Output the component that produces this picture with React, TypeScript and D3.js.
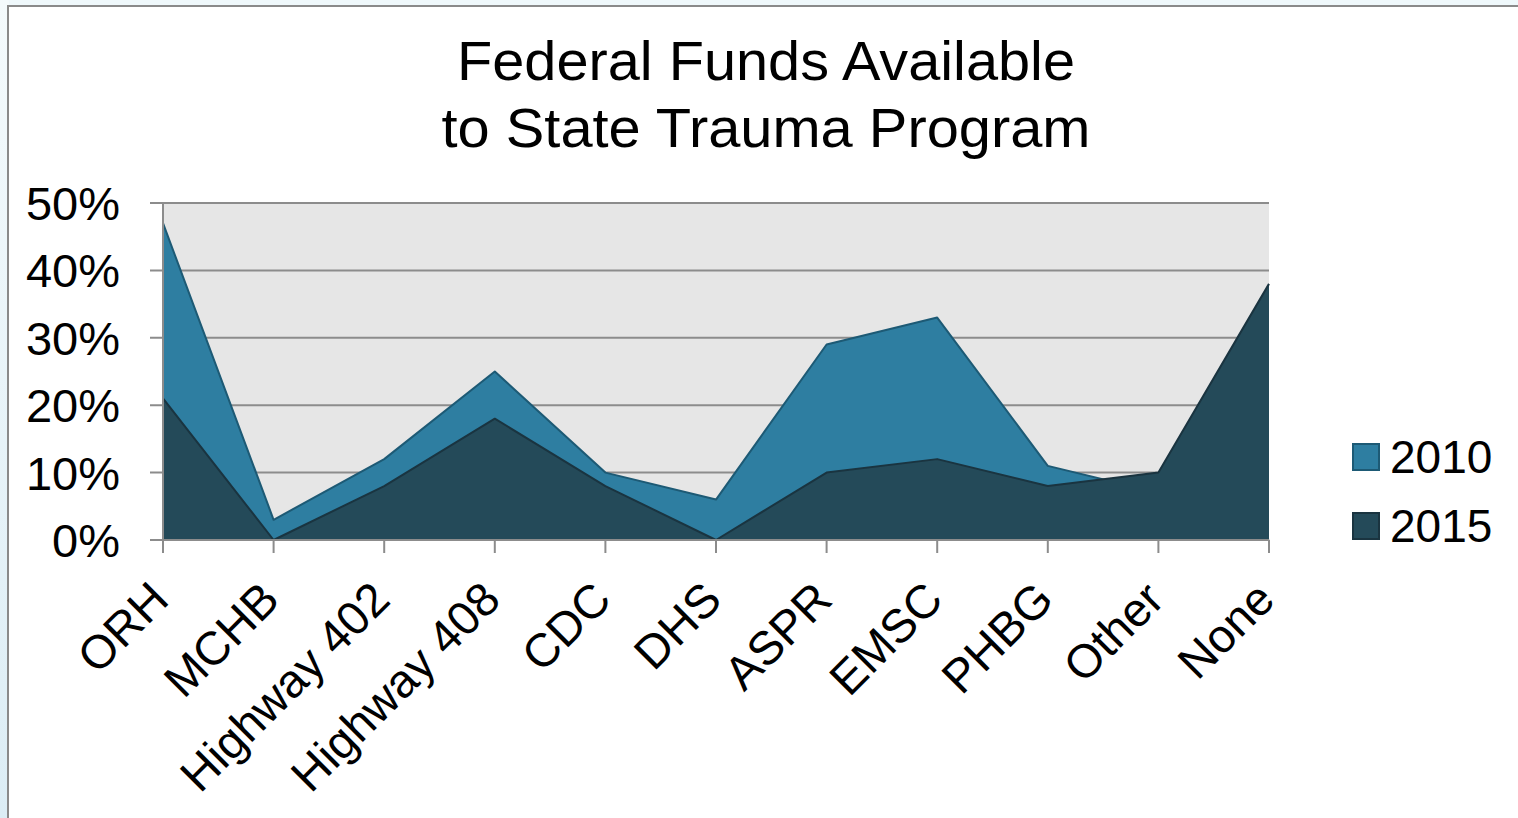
import React from "react";
import * as d3 from "d3";

const categories = ["ORH", "MCHB", "Highway 402", "Highway 408", "CDC", "DHS", "ASPR", "EMSC", "PHBG", "Other", "None"];
const values2010 = [47, 3, 12, 25, 10, 6, 29, 33, 11, 7, 0];
const values2015 = [21, 0, 8, 18, 8, 0, 10, 12, 8, 10, 38];
const yTicks = [0, 10, 20, 30, 40, 50];
const seriesNames = ["2010", "2015"];
const titleLines = ["Federal Funds Available", "to State Trauma Program"];
const titleWidths = [618, 649];

const W = 1518;
const H = 818;
const plot = { left: 163, right: 1269, top: 203, bottom: 540 };
const FONT = "'Liberation Sans', Arial, sans-serif";
const colors = ["#2e7ea1", "#244a59"];
const strokes = ["#1d5a75", "#1a3440"];

export default function App() {
  const x = d3.scalePoint<string>().domain(categories).range([plot.left, plot.right]);
  const y = d3.scaleLinear().domain([0, 50]).range([plot.bottom, plot.top]);
  const series = [values2010, values2015];

  const area = d3
    .area<number>()
    .x((_, i) => x(categories[i]) as number)
    .y0(y(0))
    .y1((d) => y(d));
  const line = d3
    .line<number>()
    .x((_, i) => x(categories[i]) as number)
    .y((d) => y(d));

  return (
    <div style={{ position: "fixed", left: 0, top: 0 }}>
      <svg width={W} height={H} style={{ display: "block" }}>
        <defs>
          <linearGradient id="bgside" x1="0" y1="0" x2="0" y2="1">
            <stop offset="0" stopColor="#f4fafc" />
            <stop offset="1" stopColor="#dcedf5" />
          </linearGradient>
        </defs>
        <rect x={0} y={0} width={W} height={H} fill="#eff8fb" />
        <rect x={0} y={0} width={9} height={H} fill="url(#bgside)" />
        <rect x={8} y={6} width={W + 20} height={H + 20} fill="#ffffff" stroke="#8a8a8a" strokeWidth={2} />

        {/* title */}
        {titleLines.map((t, i) => (
          <text
            key={t}
            x={766}
            y={80 + i * 67}
            textAnchor="middle"
            fontFamily={FONT}
            fontSize={55}
            textLength={titleWidths[i]}
            lengthAdjust="spacingAndGlyphs"
            fill="#000"
          >
            {t}
          </text>
        ))}

        {/* plot background */}
        <rect x={plot.left} y={plot.top} width={plot.right - plot.left} height={plot.bottom - plot.top} fill="#e6e6e6" />

        {/* gridlines */}
        {yTicks.map((t) => (
          <line key={t} x1={150} x2={plot.right} y1={y(t)} y2={y(t)} stroke="#8c8c8c" strokeWidth={2} />
        ))}

        {/* areas */}
        {series.map((s, i) => (
          <g key={seriesNames[i]}>
            <path d={area(s) || ""} fill={colors[i]} />
            <path d={line(s) || ""} fill="none" stroke={strokes[i]} strokeWidth={2} strokeLinejoin="round" />
          </g>
        ))}

        {/* y axis line */}
        <line x1={plot.left} x2={plot.left} y1={plot.top} y2={plot.bottom} stroke="#8c8c8c" strokeWidth={2} />
        {/* x axis line */}
        <line x1={150} x2={plot.right} y1={plot.bottom} y2={plot.bottom} stroke="#8c8c8c" strokeWidth={2} />

        {/* x ticks */}
        {categories.map((c) => (
          <line key={c} x1={x(c)} x2={x(c)} y1={plot.bottom} y2={plot.bottom + 13} stroke="#8c8c8c" strokeWidth={2} />
        ))}

        {/* y tick labels */}
        {yTicks.map((t) => (
          <text
            key={t}
            x={120}
            y={y(t) + 17}
            textAnchor="end"
            fontFamily={FONT}
            fontSize={47}
            fill="#000"
          >
            {t + "%"}
          </text>
        ))}

        {/* x labels */}
        {categories.map((c) => {
          const cx = (x(c) as number) + 8;
          const cy = 602;
          return (
            <text
              key={c}
              x={cx}
              y={cy}
              transform={`rotate(-45 ${cx} ${cy})`}
              textAnchor="end"
              fontFamily={FONT}
              fontSize={47}
              fill="#000"
            >
              {c}
            </text>
          );
        })}

        {/* legend */}
        {seriesNames.map((n, i) => (
          <g key={n} transform={`translate(1353, ${444 + i * 69})`}>
            <rect x={0} y={0} width={26} height={26} fill={colors[i]} stroke={strokes[i]} strokeWidth={2} />
            <text x={37} y={29} fontFamily={FONT} fontSize={46} fill="#000">
              {n}
            </text>
          </g>
        ))}
      </svg>
    </div>
  );
}
